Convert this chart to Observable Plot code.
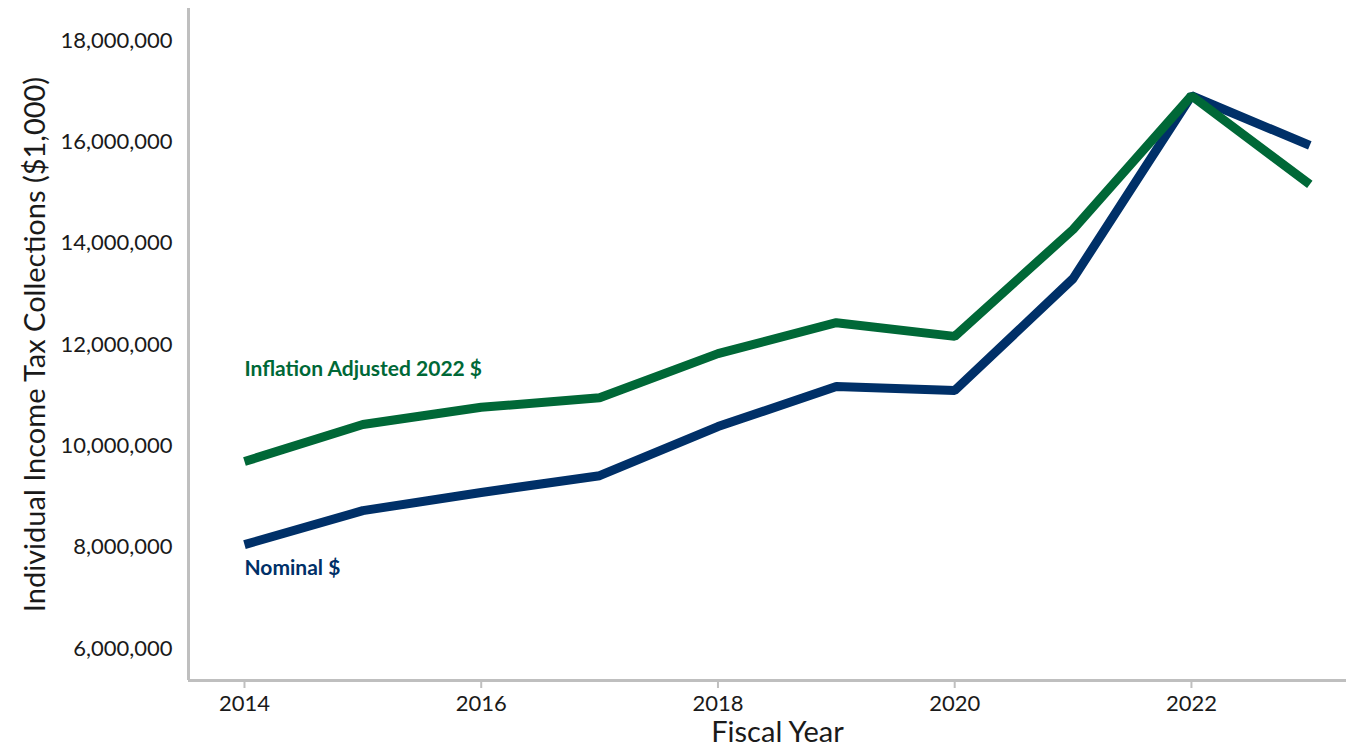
<!DOCTYPE html>
<html>
<head>
<meta charset="utf-8">
<script src="https://cdn.jsdelivr.net/npm/d3@7"></script>
<script src="https://cdn.jsdelivr.net/npm/@observablehq/plot@0.6"></script>
<style>
  html, body { margin: 0; padding: 0; background: #fff; }
  #chart svg { display: block; }
</style>
</head>
<body>
<div id="chart"></div>
<script>
const years = [2014, 2015, 2016, 2017, 2018, 2019, 2020, 2021, 2022, 2023];
const nominal = [8050000, 8720000, 9080000, 9410000, 10380000, 11170000, 11090000, 13300000, 16910000, 15930000];
const inflationAdjusted = [9690000, 10420000, 10760000, 10950000, 11820000, 12430000, 12160000, 14270000, 16910000, 15160000];
const seriesNames = ["Nominal $", "Inflation Adjusted 2022 $"];
const seriesColors = ["#003068", "#006837"];
const yTicks = [6000000, 8000000, 10000000, 12000000, 14000000, 16000000, 18000000];
const xTicks = [2014, 2016, 2018, 2020, 2022];
const yTitle = "Individual Income Tax Collections ($1,000)";
const xTitle = "Fiscal Year";

const rows = [];
years.forEach((yr, i) => {
  rows.push({year: yr, value: nominal[i], series: seriesNames[0]});
  rows.push({year: yr, value: inflationAdjusted[i], series: seriesNames[1]});
});
const labels = [
  {year: years[0], value: inflationAdjusted[0], series: seriesNames[1], dy: -92},
  {year: years[0], value: nominal[0], series: seriesNames[0], dy: 24}
];

const xDomain = [2013.527, 2023.31];
const yDomain = [5368000, 18632000];
const grey = "#bfbfbf";

const chart = Plot.plot({
  width: 1346,
  height: 748,
  marginLeft: 188,
  marginRight: 0,
  marginTop: 8,
  marginBottom: 68,
  style: {fontFamily: "Lato, 'Open Sans', sans-serif", color: "#1a1a1a", background: "#fff"},
  x: {domain: xDomain},
  y: {domain: yDomain},
  color: {domain: seriesNames, range: seriesColors},
  marks: [
    Plot.ruleX([xDomain[0]], {stroke: grey, strokeWidth: 3}),
    Plot.ruleY([yDomain[0]], {stroke: grey, strokeWidth: 3}),
    Plot.axisY({ticks: yTicks, tickSize: 0, tickPadding: 16, fontSize: 22, tickFormat: d3.format(","), label: null}),
    Plot.axisX({ticks: xTicks, tickSize: 8, tickPadding: 7, fontSize: 22, stroke: grey, strokeWidth: 2, tickFormat: d => String(d), label: null}),
    Plot.line(rows, {x: "year", y: "value", z: "series", stroke: "series", strokeWidth: 9, strokeLinejoin: "miter", strokeLinecap: "butt"}),
    Plot.text(labels.slice(0,1), {x: "year", y: "value", text: "series", fill: "series", dy: labels[0].dy, textAnchor: "start", fontSize: 21, fontWeight: "bold"}),
    Plot.text(labels.slice(1,2), {x: "year", y: "value", text: "series", fill: "series", dy: labels[1].dy, textAnchor: "start", fontSize: 21, fontWeight: "bold"}),
    Plot.text([xTitle], {frameAnchor: "bottom", lineAnchor: "middle", textAnchor: "middle", dy: 52, dx: 10, fontSize: 29, fill: "#1a1a1a"}),
    Plot.text([yTitle], {frameAnchor: "left", rotate: -90, textAnchor: "middle", lineAnchor: "middle", dx: -153, fontSize: 29, fill: "#1a1a1a"})
  ]
});
document.getElementById("chart").appendChild(chart);
</script>
</body>
</html>
